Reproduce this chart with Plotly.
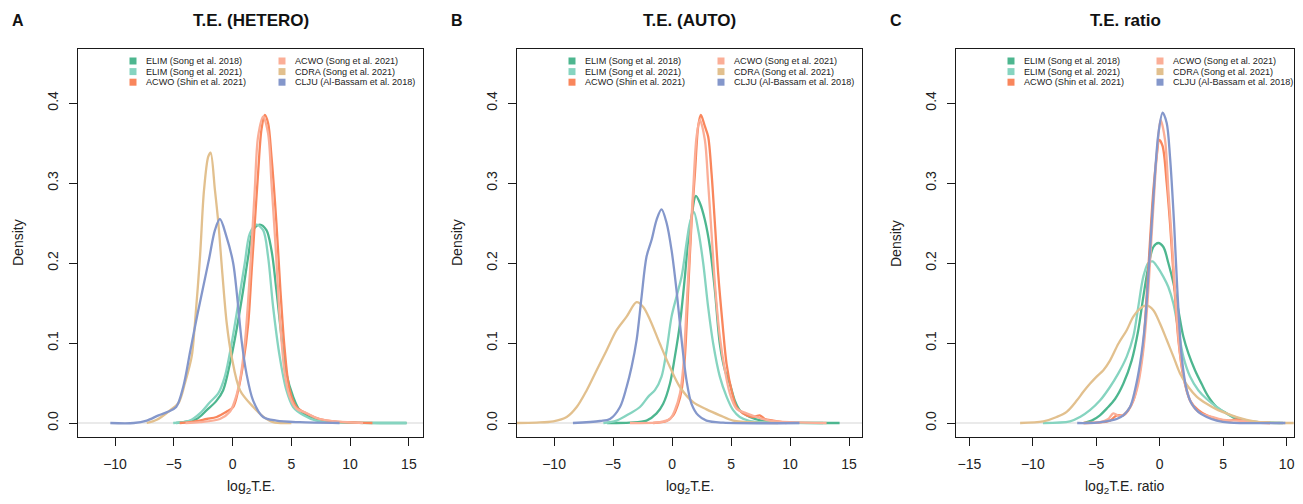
import plotly.graph_objects as go

# ---------------- data ----------------
series_names = ["ELIM (Song et al. 2018)", "ELIM (Song et al. 2021)", "ACWO (Shin et al. 2021)",
                "ACWO (Song et al. 2021)", "CDRA (Song et al. 2021)", "CLJU (Al-Bassam et al. 2018)"]
series_colors = ["#4DB68F", "#86D4C0", "#F9865C", "#FBAE97", "#E2C08E", "#8497CB"]

panel_titles = ["T.E. (HETERO)", "T.E. (AUTO)", "T.E. ratio"]
panel_letters = ["A", "B", "C"]
x_titles = ["log<sub>2</sub>T.E.", "log<sub>2</sub>T.E.", "log<sub>2</sub>T.E. ratio"]
x_ticks_ab = [-10, -5, 0, 5, 10, 15]
x_ticks_c = [-15, -10, -5, 0, 5, 10]
y_ticks = [0.0, 0.1, 0.2, 0.3, 0.4]
y_ticklabels = ["0.0", "0.1", "0.2", "0.3", "0.4"]

# Panel A: T.E. (HETERO)
hetero_elim2018_x = [-4.8, -3.06, -2.2, -1.36, -0.8, -0.23, 0.33, 0.9, 1.33, 1.75, 2.32, 2.88, 3.31, 3.73, 4.16, 4.58, 5.15, 5.71, 6.56, 7.7, 10.0, 14.8]
hetero_elim2018_y = [0, 0.005, 0.016, 0.028, 0.041, 0.074, 0.116, 0.166, 0.208, 0.241, 0.248, 0.241, 0.216, 0.166, 0.108, 0.062, 0.033, 0.016, 0.0075, 0.0025, 0.0005, 0]
hetero_elim2021_x = [-5.05, -3.63, -2.78, -1.93, -1.22, -0.66, -0.09, 0.48, 1.04, 1.47, 2.03, 2.6, 3.02, 3.45, 4.01, 4.58, 5.15, 6.0, 7.13, 10.0, 14.8]
hetero_elim2021_y = [0, 0.003, 0.012, 0.026, 0.037, 0.058, 0.099, 0.149, 0.2, 0.237, 0.248, 0.241, 0.208, 0.145, 0.083, 0.041, 0.02, 0.01, 0.003, 0.0005, 0]
hetero_acwo_shin_x = [-4.5, -3.63, -2.2, -1.36, -0.52, 0.05, 0.48, 0.9, 1.33, 1.61, 1.89, 2.17, 2.46, 2.74, 3.02, 3.31, 3.73, 4.07, 4.44, 4.86, 5.43, 6.28, 7.41, 8.55, 11.9]
hetero_acwo_shin_y = [0, 0.001, 0.005, 0.0075, 0.014, 0.02, 0.041, 0.074, 0.124, 0.187, 0.25, 0.312, 0.367, 0.385, 0.375, 0.333, 0.25, 0.166, 0.091, 0.041, 0.02, 0.012, 0.005, 0.002, 0]
hetero_acwo_song_x = [-4.0, -2.78, -1.08, -0.23, 0.19, 0.62, 1.04, 1.33, 1.61, 1.89, 2.17, 2.6, 3.02, 3.31, 3.68, 4.01, 4.44, 4.86, 5.43, 6.28, 7.41, 11.1]
hetero_acwo_song_y = [0, 0.001, 0.005, 0.014, 0.028, 0.053, 0.099, 0.154, 0.22, 0.292, 0.358, 0.383, 0.362, 0.3, 0.216, 0.133, 0.062, 0.033, 0.018, 0.0125, 0.005, 0]
hetero_cdra_x = [-7.3, -6.45, -5.3, -4.6, -4.05, -3.48, -3.2, -2.77, -2.43, -2.07, -1.87, -1.5, -1.21, -0.87, -0.5, -0.08, 0.63, 1.76, 2.61, 3.45, 5.0]
hetero_cdra_y = [0, 0.004, 0.016, 0.025, 0.05, 0.083, 0.125, 0.208, 0.291, 0.333, 0.338, 0.291, 0.25, 0.187, 0.125, 0.083, 0.041, 0.02, 0.008, 0.001, 0]
hetero_clju_x = [-10.4, -8.4, -7.3, -6.3, -5.5, -4.8, -4.2, -3.6, -3.0, -2.5, -2.0, -1.5, -1.08, -0.52, 0.05, 0.39, 0.76, 1.18, 1.75, 2.6, 3.73, 5.7, 9.1]
hetero_clju_y = [0, 0, 0.003, 0.0096, 0.014, 0.02, 0.045, 0.09, 0.135, 0.17, 0.205, 0.241, 0.255, 0.233, 0.2, 0.158, 0.104, 0.062, 0.028, 0.0075, 0.003, 0.001, 0]

# Panel B: T.E. (AUTO)
auto_elim2018_x = [-5.5, -3.57, -2.16, -1.31, -0.75, -0.18, 0.24, 0.67, 1.09, 1.37, 1.65, 2.02, 2.36, 2.78, 3.21, 3.63, 4.05, 4.48, 4.9, 5.32, 5.74, 6.59, 7.72, 10.0, 14.2]
auto_elim2018_y = [0, 0.0005, 0.003, 0.012, 0.024, 0.049, 0.083, 0.124, 0.183, 0.229, 0.258, 0.284, 0.275, 0.254, 0.22, 0.166, 0.099, 0.066, 0.049, 0.028, 0.016, 0.0075, 0.0025, 0.0005, 0]
auto_elim2021_x = [-5.82, -4.7, -3.57, -2.72, -2.01, -1.45, -0.89, -0.46, -0.04, 0.38, 0.81, 1.23, 1.51, 1.85, 2.22, 2.64, 3.06, 3.49, 4.05, 4.62, 5.18, 5.74, 6.59, 9.0, 12.8]
auto_elim2021_y = [0, 0.003, 0.012, 0.02, 0.033, 0.041, 0.058, 0.091, 0.133, 0.158, 0.183, 0.225, 0.25, 0.264, 0.241, 0.2, 0.145, 0.099, 0.058, 0.033, 0.016, 0.0075, 0.0025, 0.0005, 0]
auto_acwo_shin_x = [-1.6, -0.46, 0.1, 0.52, 0.81, 1.09, 1.37, 1.65, 1.94, 2.22, 2.44, 2.78, 3.06, 3.35, 3.63, 3.91, 4.28, 4.62, 5.04, 5.46, 6.03, 6.87, 7.44, 7.86, 8.57, 9.7]
auto_acwo_shin_y = [0, 0.0025, 0.0096, 0.024, 0.041, 0.083, 0.166, 0.25, 0.312, 0.371, 0.385, 0.371, 0.358, 0.312, 0.25, 0.187, 0.124, 0.074, 0.041, 0.02, 0.012, 0.0075, 0.0096, 0.005, 0.003, 0]
auto_acwo_song_x = [-3.57, -1.03, -0.18, 0.24, 0.67, 0.95, 1.23, 1.51, 1.79, 2.08, 2.36, 2.78, 3.06, 3.35, 3.63, 4.05, 4.48, 4.9, 5.46, 6.31, 7.16, 8.28, 13.1]
auto_acwo_song_y = [0, 0.001, 0.005, 0.016, 0.037, 0.07, 0.145, 0.22, 0.291, 0.358, 0.379, 0.354, 0.3, 0.237, 0.175, 0.108, 0.066, 0.037, 0.018, 0.012, 0.0075, 0.003, 0]
auto_cdra_x = [-13.2, -11.5, -10.06, -8.93, -8.08, -7.23, -6.39, -5.54, -4.7, -3.85, -3.0, -2.44, -1.87, -1.03, -0.18, 0.67, 1.79, 2.92, 4.05, 5.18, 7.16, 9.0]
auto_cdra_y = [0, 0.0005, 0.002, 0.0075, 0.02, 0.041, 0.066, 0.091, 0.116, 0.133, 0.151, 0.145, 0.129, 0.099, 0.07, 0.045, 0.026, 0.017, 0.0096, 0.003, 0.0004, 0]
auto_clju_x = [-8.4, -6.1, -5.26, -4.41, -3.85, -3.43, -3.0, -2.58, -2.16, -1.73, -1.31, -0.89, -0.46, -0.04, 0.38, 0.81, 1.23, 1.65, 2.22, 2.92, 4.33, 10.8]
auto_clju_y = [0, 0.0025, 0.005, 0.02, 0.045, 0.07, 0.104, 0.158, 0.208, 0.229, 0.254, 0.267, 0.25, 0.216, 0.166, 0.104, 0.053, 0.024, 0.0096, 0.003, 0.0004, 0]

# Panel C: T.E. ratio
ratio_elim2018_x = [-6.0, -5.36, -4.71, -4.18, -3.52, -2.87, -2.21, -1.69, -1.29, -0.9, -0.5, -0.11, 0.29, 0.68, 1.08, 1.47, 1.86, 2.26, 2.78, 3.3, 3.83, 4.49, 5.27, 6.06, 7.1, 9.7]
ratio_elim2018_y = [0, 0.003, 0.0096, 0.018, 0.03, 0.049, 0.078, 0.116, 0.158, 0.195, 0.22, 0.225, 0.22, 0.2, 0.175, 0.141, 0.108, 0.087, 0.066, 0.049, 0.033, 0.02, 0.012, 0.005, 0.002, 0]
ratio_elim2021_x = [-9.2, -7.07, -6.28, -5.5, -4.71, -3.92, -3.26, -2.6, -2.08, -1.69, -1.29, -0.9, -0.56, -0.18, 0.28, 0.68, 1.08, 1.47, 1.86, 2.39, 3.04, 3.7, 4.49, 5.27, 6.06, 7.1, 9.5]
ratio_elim2021_y = [0, 0.002, 0.0075, 0.016, 0.028, 0.045, 0.062, 0.083, 0.108, 0.145, 0.183, 0.2, 0.202, 0.195, 0.183, 0.17, 0.149, 0.116, 0.083, 0.058, 0.041, 0.03, 0.02, 0.012, 0.0067, 0.002, 0]
ratio_acwo_shin_x = [-6.0, -4.97, -3.92, -3.39, -2.87, -2.47, -2.08, -1.69, -1.29, -1.03, -0.76, -0.5, -0.24, -0.03, 0.23, 0.55, 0.81, 1.13, 1.47, 1.86, 2.39, 3.04, 3.7, 4.49, 5.54, 6.06, 6.85, 8.7]
ratio_acwo_shin_y = [0, 0.0004, 0.003, 0.0096, 0.0096, 0.016, 0.028, 0.053, 0.099, 0.158, 0.229, 0.291, 0.333, 0.354, 0.346, 0.3, 0.25, 0.175, 0.104, 0.058, 0.028, 0.016, 0.0096, 0.005, 0.003, 0.0046, 0.001, 0]
ratio_acwo_song_x = [-6.0, -4.71, -4.05, -3.66, -3.13, -2.61, -2.08, -1.69, -1.29, -0.97, -0.71, -0.45, -0.18, 0.07, 0.42, 0.68, 0.95, 1.29, 1.6, 2.0, 2.52, 3.17, 3.96, 5.01, 6.06, 8.7]
ratio_acwo_song_y = [0, 0.001, 0.005, 0.012, 0.0084, 0.014, 0.028, 0.049, 0.091, 0.149, 0.216, 0.283, 0.346, 0.379, 0.354, 0.291, 0.229, 0.145, 0.087, 0.049, 0.024, 0.0125, 0.0084, 0.004, 0.003, 0]
ratio_cdra_x = [-11.0, -9.17, -8.12, -7.33, -6.54, -6.02, -5.5, -4.97, -4.44, -3.92, -3.26, -2.6, -2.08, -1.55, -1.03, -0.5, 0.03, 0.55, 1.08, 1.6, 2.26, 2.91, 3.7, 4.49, 5.27, 6.06, 6.85, 7.9, 10.55]
ratio_cdra_y = [0, 0.002, 0.0075, 0.014, 0.028, 0.039, 0.049, 0.058, 0.066, 0.078, 0.099, 0.116, 0.133, 0.143, 0.147, 0.141, 0.124, 0.104, 0.083, 0.062, 0.045, 0.033, 0.024, 0.017, 0.012, 0.0075, 0.004, 0.001, 0]
ratio_clju_x = [-6.5, -4.97, -3.92, -3.39, -2.87, -2.34, -1.95, -1.55, -1.16, -0.9, -0.63, -0.37, -0.1, 0.23, 0.55, 0.81, 1.13, 1.39, 1.73, 2.13, 2.52, 3.04, 3.7, 4.49, 5.5, 9.9]
ratio_clju_y = [0, 0.0004, 0.003, 0.005, 0.0096, 0.02, 0.041, 0.074, 0.124, 0.183, 0.25, 0.312, 0.362, 0.388, 0.375, 0.333, 0.25, 0.166, 0.083, 0.041, 0.024, 0.014, 0.0075, 0.003, 0.0005, 0]

panels = [
    [(hetero_elim2018_x, hetero_elim2018_y), (hetero_elim2021_x, hetero_elim2021_y),
     (hetero_acwo_shin_x, hetero_acwo_shin_y), (hetero_acwo_song_x, hetero_acwo_song_y),
     (hetero_cdra_x, hetero_cdra_y), (hetero_clju_x, hetero_clju_y)],
    [(auto_elim2018_x, auto_elim2018_y), (auto_elim2021_x, auto_elim2021_y),
     (auto_acwo_shin_x, auto_acwo_shin_y), (auto_acwo_song_x, auto_acwo_song_y),
     (auto_cdra_x, auto_cdra_y), (auto_clju_x, auto_clju_y)],
    [(ratio_elim2018_x, ratio_elim2018_y), (ratio_elim2021_x, ratio_elim2021_y),
     (ratio_acwo_shin_x, ratio_acwo_shin_y), (ratio_acwo_song_x, ratio_acwo_song_y),
     (ratio_cdra_x, ratio_cdra_y), (ratio_clju_x, ratio_clju_y)],
]

# ---------------- layout geometry (page pixels) ----------------
# the page body has an 8 px margin, so the figure starts at (8, 8);
# keep the whole figure inside the visible window
OFF = 8
W, H = 1303 - 2 * OFF, 504 - 2 * OFF
box_left = [78, 517, 956]
box_right = [423, 862, 1294]
box_top, box_bottom = 49, 437
x_ranges = [[-13.15, 16.2], [-13.14, 16.1], [-16.05, 10.58]]
y_range = [-0.0175, 0.4675]
FONT = "Liberation Sans, Arial, sans-serif"


def fx(px):
    return (px - OFF) / W


def fy(py):
    return 1 - (py - OFF) / H


fig = go.Figure()
annotations = []
shapes = []

for p in range(3):
    suffix = "" if p == 0 else str(p + 1)
    xa, ya = "x" + suffix, "y" + suffix
    for s, (xs, ys) in enumerate(panels[p]):
        fig.add_trace(go.Scatter(
            x=xs, y=ys, mode="lines", name=series_names[s],
            line=dict(color=series_colors[s], width=2.3, shape="spline", smoothing=0.9),
            xaxis=xa, yaxis=ya, showlegend=False, hoverinfo="skip"))

    xticks = x_ticks_c if p == 2 else x_ticks_ab
    axis_common = dict(showline=True, mirror=True, linecolor="#1a1a1a", linewidth=1.3,
                       ticks="outside", ticklen=8, tickwidth=1.2, tickcolor="#1a1a1a",
                       showgrid=False, zeroline=False,
                       tickfont=dict(family=FONT, size=14, color="#222222"))
    fig.update_layout(**{
        "xaxis" + suffix: dict(domain=[fx(box_left[p]), fx(box_right[p])], range=x_ranges[p],
                               tickvals=xticks, ticklabelstandoff=6, anchor=ya, **axis_common),
        "yaxis" + suffix: dict(domain=[fy(box_bottom), fy(box_top)], range=y_range,
                               tickvals=y_ticks, ticktext=y_ticklabels, tickangle=-90,
                               ticklabelstandoff=5, anchor=xa, **axis_common),
    })

    # light grey baseline at density 0
    shapes.append(dict(type="line", xref=xa + " domain", x0=0, x1=1, yref=ya, y0=0, y1=0,
                       line=dict(color="#E3E3E3", width=1.5), layer="below"))

    cx = (box_left[p] + box_right[p]) / 2
    annotations.append(dict(text=panel_titles[p], x=fx(cx), y=fy(20),
                            xref="paper", yref="paper", showarrow=False,
                            font=dict(family=FONT, size=17, color="#111111", weight="bold"),
                            xanchor="center", yanchor="middle"))
    annotations.append(dict(text=panel_letters[p], x=fx(box_left[p] - 60), y=fy(20),
                            xref="paper", yref="paper", showarrow=False,
                            font=dict(family=FONT, size=16, color="#111111", weight="bold"),
                            xanchor="center", yanchor="middle"))
    annotations.append(dict(text=x_titles[p], x=fx(cx), y=fy(487), xref="paper", yref="paper",
                            showarrow=False, font=dict(family=FONT, size=14, color="#222222"),
                            xanchor="center", yanchor="middle"))
    annotations.append(dict(text="Density", x=fx(box_left[p] - 60), y=fy((box_top + box_bottom) / 2),
                            xref="paper", yref="paper", showarrow=False, textangle=-90,
                            font=dict(family=FONT, size=14, color="#222222"),
                            xanchor="center", yanchor="middle"))

    # legend: two columns of three entries with filled squares
    for s in range(6):
        col, row = divmod(s, 3)
        sq_x = box_left[p] + 55 + col * 149
        row_y = 61 + row * 10.6
        shapes.append(dict(type="rect", xref="paper", yref="paper",
                           x0=fx(sq_x - 3.5), x1=fx(sq_x + 3.5), y0=fy(row_y + 3.5), y1=fy(row_y - 3.5),
                           fillcolor=series_colors[s], line=dict(width=0)))
        annotations.append(dict(text=series_names[s], x=fx(sq_x + 11), y=fy(row_y),
                                xref="paper", yref="paper", showarrow=False,
                                font=dict(family=FONT, size=9.1, color="#222222"),
                                xanchor="left", yanchor="middle"))

fig.update_layout(width=W, height=H, margin=dict(l=0, r=0, t=0, b=0),
                  paper_bgcolor="white", plot_bgcolor="white",
                  annotations=annotations, shapes=shapes, showlegend=False)

fig.write_html("out.html")
